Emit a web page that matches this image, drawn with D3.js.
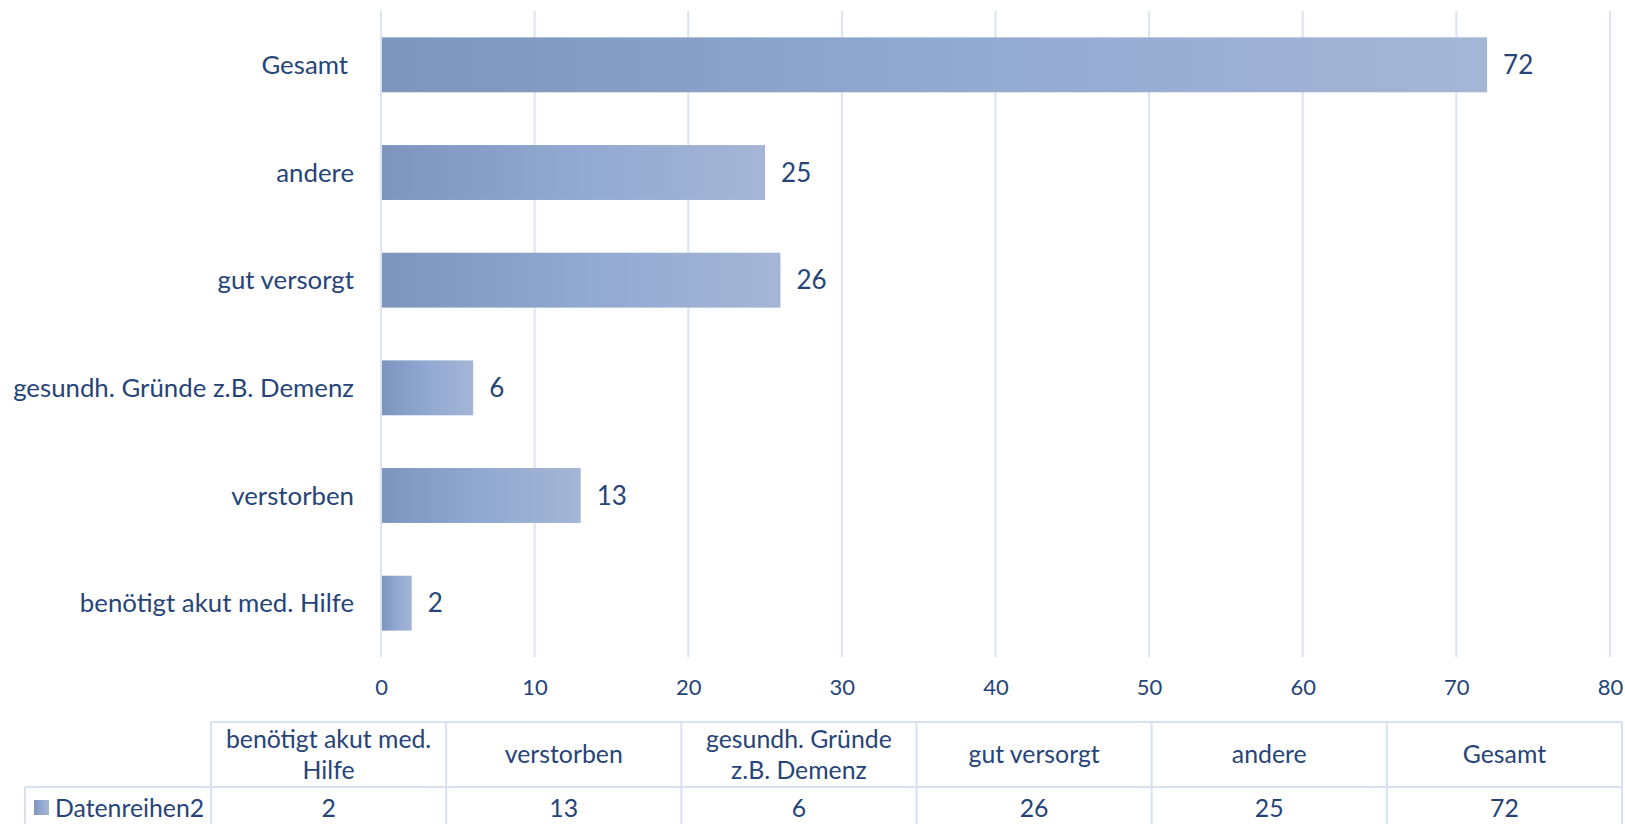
<!DOCTYPE html>
<html>
<head>
<meta charset="utf-8">
<script src="https://cdn.jsdelivr.net/npm/d3@7"></script>
<style>
  body { margin: 0; background: #fff; }
  svg text { font-family: Lato, "Open Sans", sans-serif; fill: #264478; }
</style>
</head>
<body>
<div id="chart-area"></div>
<script>
// chart data
let categories = ["benötigt akut med. Hilfe", "verstorben", "gesundh. Gründe z.B. Demenz", "gut versorgt", "andere", "Gesamt"];
let values = [2, 13, 6, 26, 25, 72];
let headerLines = [["benötigt akut med.", "Hilfe"], ["verstorben"], ["gesundh. Gründe", "z.B. Demenz"], ["gut versorgt"], ["andere"], ["Gesamt"]];
let seriesName = "Datenreihen2";
let tickValues = [0, 10, 20, 30, 40, 50, 60, 70, 80];

let W = 1625, H = 824;
let plot = {left: 381, right: 1610, top: 11, bottom: 657};

let svg = d3.select("#chart-area").append("svg")
    .attr("width", W)
    .attr("height", H);

// gradient used by bars and legend key
let defs = svg.append("defs");
let grad = defs.append("linearGradient")
    .attr("id", "barGrad")
    .attr("x1", "0%").attr("x2", "100%")
    .attr("y1", "0%").attr("y2", "0%");
grad.append("stop").attr("offset", "0%").attr("stop-color", "#7d94bd");
grad.append("stop").attr("offset", "50%").attr("stop-color", "#91a9d1");
grad.append("stop").attr("offset", "100%").attr("stop-color", "#a5b5d5");

// Scales
let x = d3.scaleLinear()
    .domain([0, 80])
    .range([plot.left, plot.right]);

let y = d3.scaleBand()
    .domain(categories.slice().reverse())
    .range([plot.top, plot.bottom])
    .paddingInner(0.49)
    .paddingOuter(0.245);

// Gridlines
svg.append("g")
    .selectAll("line")
    .data(tickValues)
    .join("line")
    .attr("x1", d => x(d)).attr("x2", d => x(d))
    .attr("y1", plot.top).attr("y2", plot.bottom)
    .attr("stroke", "#d9e3f1")
    .attr("stroke-width", 2);

// x tick labels
let xAxis = d3.axisBottom(x).tickValues(tickValues).tickSize(0).tickPadding(0);
let xg = svg.append("g")
    .attr("transform", "translate(0," + (plot.bottom + 22) + ")")
    .call(xAxis);
xg.select(".domain").remove();
xg.selectAll("text")
    .attr("dy", "0.71em")
    .style("font-size", "22px")
    .attr("fill", "#264478");

// Bars
svg.append("g")
    .selectAll("rect")
    .data(categories)
    .join("rect")
    .attr("x", x(0) + 1)
    .attr("y", d => y(d))
    .attr("width", (d, i) => x(values[i]) - x(0) - 1)
    .attr("height", y.bandwidth())
    .attr("fill", "url(#barGrad)");

// Category labels
svg.append("g")
    .selectAll("text")
    .data(categories)
    .join("text")
    .attr("x", (d) => d === "Gesamt" ? 348 : 354)
    .attr("y", d => y(d) + y.bandwidth() / 2)
    .attr("dy", "0.35em")
    .attr("text-anchor", "end")
    .style("font-size", "25.8px")
    .text(d => d);

// Value labels
svg.append("g")
    .selectAll("text")
    .data(categories)
    .join("text")
    .attr("x", (d, i) => x(values[i]) + 16)
    .attr("y", d => y(d) + y.bandwidth() / 2)
    .attr("dy", "0.35em")
    .style("font-size", "26px")
    .text((d, i) => values[i]);

// Data table
let table = {left: 211, right: 1622, top: 722, mid: 787, bottom: 830, keyLeft: 25};
let col = d3.scaleBand()
    .domain(categories)
    .range([table.left, table.right]);

let tg = svg.append("g");
let lineColor = "#d6e2f2";

tg.append("line")
    .attr("x1", table.left).attr("x2", table.right)
    .attr("y1", table.top).attr("y2", table.top)
    .attr("stroke", lineColor).attr("stroke-width", 2);
tg.append("line")
    .attr("x1", table.keyLeft).attr("x2", table.right)
    .attr("y1", table.mid).attr("y2", table.mid)
    .attr("stroke", lineColor).attr("stroke-width", 2);

let colEdges = categories.map(d => col(d)).concat([table.right]);
tg.selectAll(".vline")
    .data(colEdges)
    .join("line")
    .attr("class", "vline")
    .attr("x1", d => d).attr("x2", d => d)
    .attr("y1", table.top).attr("y2", table.bottom)
    .attr("stroke", lineColor).attr("stroke-width", 2);
tg.append("line")
    .attr("x1", table.keyLeft).attr("x2", table.keyLeft)
    .attr("y1", table.mid).attr("y2", table.bottom)
    .attr("stroke", lineColor).attr("stroke-width", 2);

// header cells
let headerCells = tg.selectAll(".hcell")
    .data(categories)
    .join("text")
    .attr("class", "hcell")
    .attr("text-anchor", "middle")
    .style("font-size", "24.8px");
headerCells.each(function(d, i) {
    let lines = headerLines[i];
    let cy = (table.top + table.mid) / 2;
    let lh = 31;
    let start = cy - (lines.length - 1) * lh / 2;
    d3.select(this).selectAll("tspan")
        .data(lines)
        .join("tspan")
        .attr("x", col(d) + col.bandwidth() / 2)
        .attr("y", (l, j) => start + j * lh)
        .attr("dy", "0.35em")
        .text(l => l);
});

// value cells
tg.selectAll(".vcell")
    .data(categories)
    .join("text")
    .attr("class", "vcell")
    .attr("x", d => col(d) + col.bandwidth() / 2)
    .attr("y", 808)
    .attr("dy", "0.35em")
    .attr("text-anchor", "middle")
    .style("font-size", "24.8px")
    .text((d, i) => values[i]);

// legend key + series name
tg.append("rect")
    .attr("x", 34).attr("y", 800)
    .attr("width", 15).attr("height", 15)
    .attr("fill", "url(#barGrad)");
tg.append("text")
    .attr("x", 55).attr("y", 808)
    .attr("dy", "0.35em")
    .style("font-size", "24.8px")
    .text(seriesName);
</script>
</body>
</html>
